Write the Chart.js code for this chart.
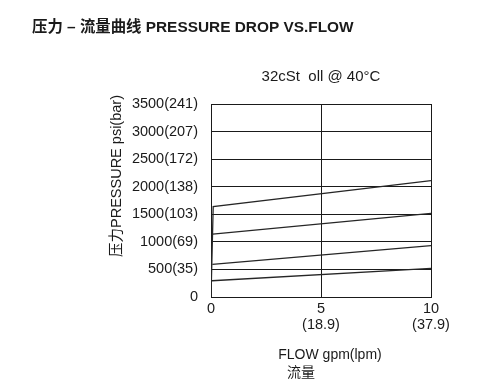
<!DOCTYPE html>
<html>
<head>
<meta charset="utf-8">
<script src="https://cdn.jsdelivr.net/npm/chart.js@4/dist/chart.umd.min.js"></script>
<style>
  html, body { margin: 0; padding: 0; background: #fff; }
  #wrap { width: 502px; height: 392px; }
</style>
</head>
<body>
<div id="wrap"><canvas id="chart" width="502" height="392"></canvas></div>
<script>
// ---------- DATA ----------
// flow in gpm, pressure drop in psi
const flowA = [0, 0.1, 10];
const pressureA = [0, 1640, 2110];
const flowB = [0.08, 10];
const pressureB = [1140, 1515];
const flowC = [0.06, 10];
const pressureC = [590, 930];
const flowD = [0.04, 10];
const pressureD = [295, 520];

// tick labels
const yTickValues = [0, 500, 1000, 1500, 2000, 2500, 3000, 3500];
const yTickLabels = ["0", "500(35)", "1000(69)", "1500(103)", "2000(138)", "2500(172)", "3000(207)", "3500(241)"];
const xTickValues = [0, 5, 10];
const xTickLabels = [["0"], ["5", "(18.9)"], ["10", "(37.9)"]];

const FONT = "'Liberation Sans', Arial, 'Noto Sans CJK SC', sans-serif";
const INK = "#1a1a1a";

function toPoints(xs, ys) {
  return xs.map((x, i) => ({ x: x, y: ys[i] }));
}

function curve(xs, ys) {
  return {
    data: toPoints(xs, ys),
    showLine: true,
    borderColor: "#262626",
    borderWidth: 1.3,
    pointRadius: 0,
    tension: 0,
  };
}

// Texts around the plot (title, oil note, axis titles)
const textPlugin = {
  id: "texts",
  afterDraw(chart) {
    const ctx = chart.ctx;
    ctx.save();
    ctx.fillStyle = INK;
    ctx.textBaseline = "middle";

    ctx.textAlign = "left";
    ctx.font = "bold 15.4px " + FONT;
    ctx.fillText("压力 – 流量曲线 PRESSURE DROP VS.FLOW", 32, 28);

    ctx.textAlign = "center";
    ctx.font = "15px " + FONT;
    ctx.fillText("32cSt  oll @ 40°C", 321, 77);

    ctx.font = "14px " + FONT;
    ctx.fillText("FLOW gpm(lpm)", 330, 355);
    ctx.fillText("流量", 301, 373);

    ctx.font = "14.5px " + FONT;
    ctx.translate(117, 176);
    ctx.rotate(-Math.PI / 2);
    ctx.fillText("压力PRESSURE psi(bar)", 0, 0);
    ctx.restore();
  },
};

const ctx = document.getElementById("chart");

const chart = new Chart(ctx, {
  type: "scatter",
  data: {
    datasets: [
      curve(flowA, pressureA),
      curve(flowB, pressureB),
      curve(flowC, pressureC),
      curve(flowD, pressureD),
    ],
  },
  options: {
    responsive: false,
    animation: false,
    layout: {
      padding: { top: 104, right: 71, left: 0, bottom: 0 },
    },
    plugins: {
      legend: { display: false },
      tooltip: { enabled: false },
    },
    scales: {
      x: {
        type: "linear",
        min: 0,
        max: 10,
        afterFit(scale) {
          scale.height = 95;
        },
        afterBuildTicks(scale) {
          scale.ticks = xTickValues.map((v) => ({ value: v }));
        },
        ticks: {
          color: INK,
          font: { family: FONT, size: 14.5, lineHeight: 1.12 },
          padding: 4,
          maxRotation: 0,
          callback: (v) => xTickLabels[xTickValues.indexOf(v)],
        },
        grid: { color: INK, lineWidth: 1, drawTicks: false },
        border: { color: INK, width: 1 },
      },
      y: {
        type: "linear",
        min: 0,
        max: 3500,
        afterFit(scale) {
          scale.width = 211;
        },
        afterBuildTicks(scale) {
          scale.ticks = yTickValues.map((v) => ({ value: v }));
        },
        ticks: {
          color: INK,
          font: { family: FONT, size: 14.5 },
          padding: 13,
          callback: (v) => yTickLabels[yTickValues.indexOf(v)],
        },
        grid: { color: INK, lineWidth: 1, drawTicks: false },
        border: { color: INK, width: 1 },
      },
    },
  },
  plugins: [textPlugin],
});
</script>
</body>
</html>
